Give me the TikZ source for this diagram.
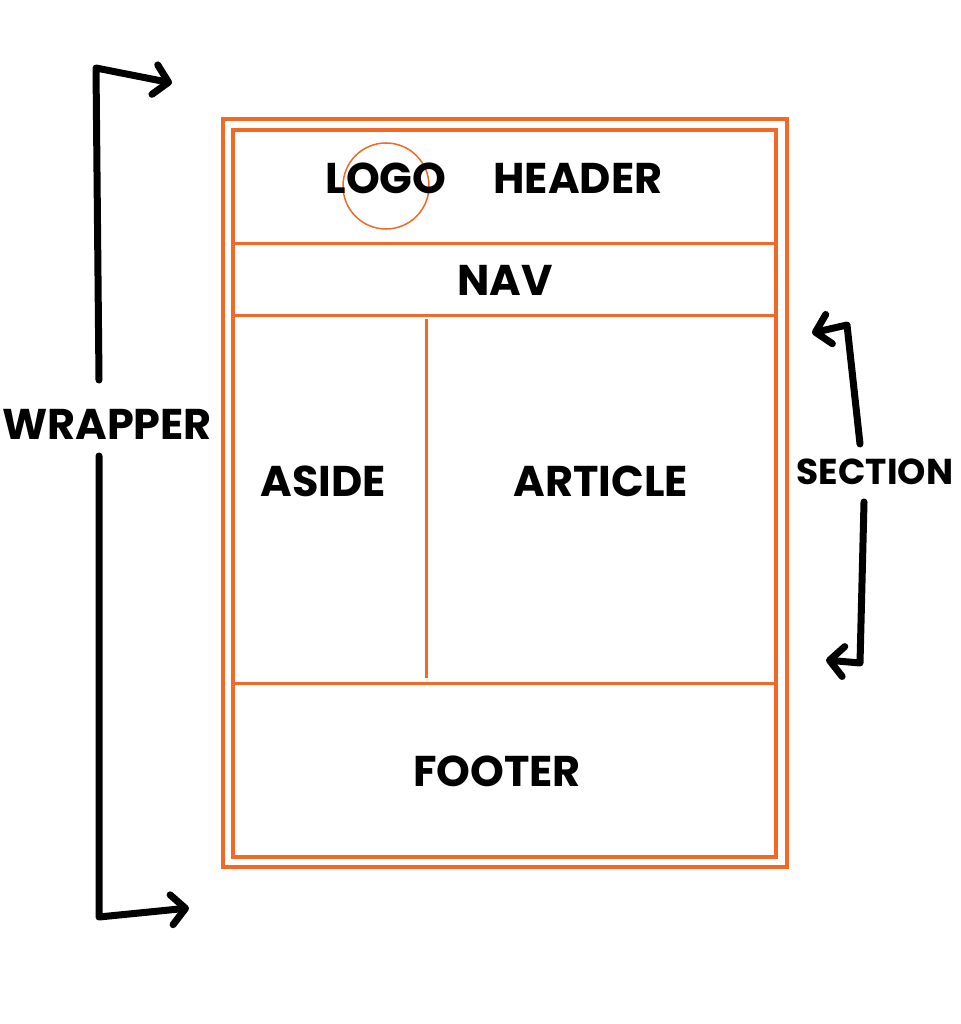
\documentclass[tikz,border=0pt]{standalone}
\usepackage{fontspec}
\setmainfont{Poppins}
\usetikzlibrary{arrows.meta}
\definecolor{layoutorange}{RGB}{242,104,36}
\tikzset{
  label/.style={font=\bfseries\fontsize{43}{48}\selectfont, inner sep=0pt},
  sidelabel/.style={font=\bfseries\fontsize{36}{40}\selectfont, inner sep=0pt},
  frame/.style={draw=layoutorange, line width=4pt},
  divider/.style={draw=layoutorange, line width=3pt},
  pointer/.style={line width=7pt, line cap=round, line join=round,
    -{Straight Barb[length=14pt, width=30pt, line width=7pt, round]}}
}
\begin{document}
\begin{tikzpicture}[x=1pt, y=-1pt]
  \useasboundingbox (0,0) rectangle (960,1024);
  % Wrapper frames
  \draw[frame] (223,119) rectangle (787,867);
  \draw[frame] (233,130) rectangle (776,857);
  % Dividers
  \draw[divider] (233,243) -- (776,243);
  \draw[divider] (233,315) -- (776,315);
  \draw[divider] (233,683) -- (776,683);
  \draw[divider] (426,319) -- (426,678);
  % Logo circle
  \draw[layoutorange, line width=1.5pt] (386,186) circle (43);
  % Section labels
  \node[label] (logo) at (386,178) {LOGO};
  \node[label] (header) at (578,178) {HEADER};
  \node[label] (nav) at (505,280) {NAV};
  \node[label] (aside) at (323,481) {ASIDE};
  \node[label] (article) at (601,481) {ARTICLE};
  \node[label] (footer) at (497,771) {FOOTER};
  % Side labels
  \node[label] (wrapper) at (107,424) {WRAPPER};
  \node[sidelabel] (section) at (875,472) {SECTION};
  % Wrapper arrows
  \coordinate (wtopstart) at (99,380);
  \coordinate (wtopcorner) at (96,68);
  \coordinate (wtoptip) at (172,83);
  \coordinate (wbotstart) at (99,456);
  \coordinate (wbotcorner) at (99,917);
  \coordinate (wbottip) at (189,908);
  \draw[pointer] (wtopstart) -- (wtopcorner) -- (wtoptip);
  \draw[pointer] (wbotstart) -- (wbotcorner) -- (wbottip);
  % Section arrows
  \coordinate (stopstart) at (860,444);
  \coordinate (stopcorner) at (847,325);
  \coordinate (stoptip) at (812,333);
  \coordinate (sbotstart) at (864,502);
  \coordinate (sbotcorner) at (860,663);
  \coordinate (sbottip) at (826,660);
  \draw[pointer] (stopstart) -- (stopcorner) -- (stoptip);
  \draw[pointer] (sbotstart) -- (sbotcorner) -- (sbottip);
\end{tikzpicture}
\end{document}
